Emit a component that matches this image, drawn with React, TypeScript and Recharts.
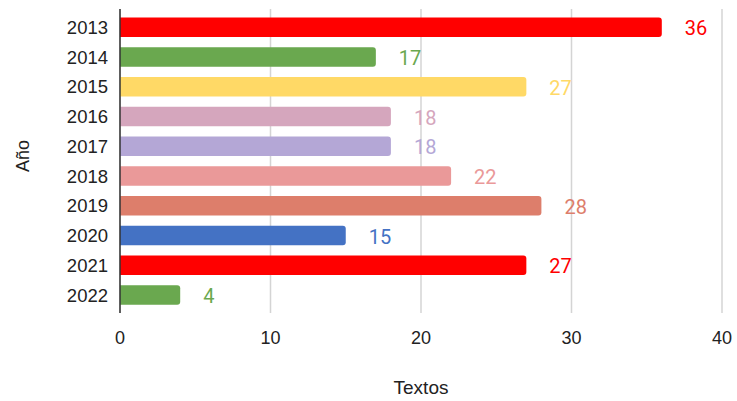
import React from "react";
import { BarChart, Bar, XAxis, YAxis, CartesianGrid, Cell, LabelList } from "recharts";

const years = ["2013", "2014", "2015", "2016", "2017", "2018", "2019", "2020", "2021", "2022"];
const textos = [36, 17, 27, 18, 18, 22, 28, 15, 27, 4];
const barColors = ["#FF0000", "#6AA84F", "#FFD966", "#D5A6BD", "#B4A7D6", "#EA9999", "#DD7E6B", "#4472C4", "#FF0000", "#6AA84F"];
const xTicks = [0, 10, 20, 30, 40];

const rows = years.map((y, i) => ({ year: y, textos: textos[i] }));

const tickFont = "'Liberation Sans', Arial, sans-serif";

function ValueLabel(props: any) {
  const { x, y, width, height, value, index } = props;
  return (
    <text x={x + width + 23} y={y + height / 2 + 1} fill={barColors[index]} fontSize={20}
      fontFamily="Roboto, sans-serif" dominantBaseline="central">
      {value}
    </text>
  );
}

export default function App() {
  return (
    <div style={{ position: "absolute", left: 0, top: 0, width: 737, height: 401, background: "#fff" }}>
      <BarChart width={737} height={401} data={rows} layout="vertical"
        margin={{ top: 9, right: 15, bottom: 58, left: 40 }}>
        <CartesianGrid horizontal={false} stroke="#d4d4d4" strokeWidth={1.5} />
        <XAxis type="number" domain={[0, 40]} ticks={xTicks} axisLine={false} tickLine={false}
          tickMargin={12} height={30} tick={{ fill: "#222", fontSize: 18, fontFamily: tickFont }} />
        <YAxis type="category" dataKey="year" width={80} padding={{ top: 3.5, bottom: 3 }}
          axisLine={{ stroke: "#333", strokeWidth: 1.5 }} tickLine={false} tickSize={0} tickMargin={12}
          tick={{ fill: "#222", fontSize: 18.5, fontFamily: tickFont }} />
        <Bar dataKey="textos" barSize={19.5} radius={[0, 3, 3, 0]} isAnimationActive={false}>
          {rows.map((r, i) => <Cell key={r.year} fill={barColors[i]} />)}
          <LabelList dataKey="textos" content={ValueLabel} />
        </Bar>
        <text x={421} y={387} textAnchor="middle" dominantBaseline="central" fontSize={19}
          fontFamily={tickFont} fill="#222">Textos</text>
        <text x={23} y={156} textAnchor="middle" dominantBaseline="central" fontSize={18}
          fontFamily={tickFont} fill="#222" transform="rotate(-90 23 156)">Año</text>
      </BarChart>
    </div>
  );
}
